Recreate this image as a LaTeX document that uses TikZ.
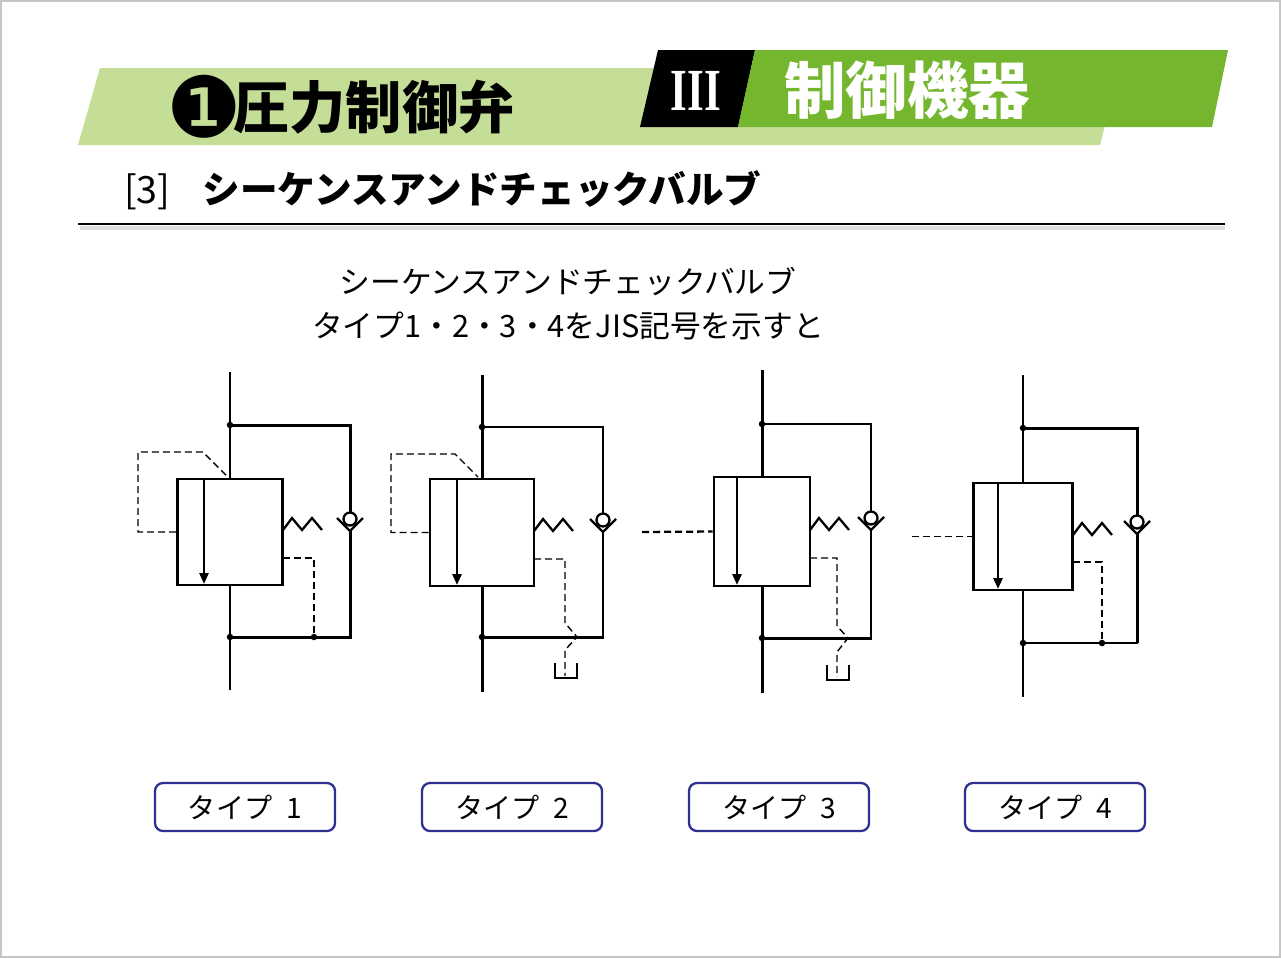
\documentclass[tikz,border=0pt]{standalone}
\usepackage{fontspec}
\usepackage{xcolor}
\usepackage{tikz}
\usetikzlibrary{arrows.meta}
\setmainfont{Noto Sans CJK JP}
\newfontfamily\dingfont{DejaVu Sans}
\newfontfamily\romanfont{Liberation Serif}
\definecolor{lightgreen}{HTML}{C4DE98}
\definecolor{darkgreen}{HTML}{74B62E}
\definecolor{labelblue}{HTML}{2E3192}

\tikzset{
  pipe/.style={line width=1.7pt},
  thinpipe/.style={line width=1.1pt},
  pilot/.style={line width=0.8pt, dash pattern=on 1.4mm off 0.8mm},
  valvebox/.style={draw, line width=1.5pt, inner sep=0pt},
  jdot/.style={circle, fill, inner sep=0pt, minimum size=1.3mm},
  flowarrow/.style={line width=1.5pt, -{Triangle[length=2.2mm,width=1.8mm]}},
  typebox/.style={draw=labelblue, line width=1.3pt, rounded corners=1.6mm, fill=white,
    minimum width=36mm, minimum height=9.6mm, font=\fontsize{16}{18}\selectfont},
  checkvalve/.pic={
    \draw[line width=1.3pt] (-13,-13) -- (0,0) -- (13,-13);
    \draw[line width=1.3pt] (0,-12) circle[radius=1.3mm];
    \coordinate (-in) at (0,-18.5);
    \coordinate (-out) at (0,0);
  },
  spring/.pic={
    \draw[line width=1.3pt] (0,0) -- (9,-12) -- (19,0) -- (29,-12) -- (39,0);
  },
  tank/.pic={
    \draw[line width=1.5pt] (-11,-15) -- (-11,0) -- (11,0) -- (11,-15);
  }
}

\begin{document}
\begin{tikzpicture}[x=0.2mm, y=-0.2mm]
\useasboundingbox (0,0) rectangle (1281,958);
\draw[gray!45, line width=0.8pt] (1,1) rectangle (1280,957);

% header
\fill[lightgreen] (100,68) -- (1120,68) -- (1100,145) -- (78,145) -- cycle;
\fill[black] (658,50) -- (755,50) -- (738,127) -- (640,127) -- cycle;
\fill[darkgreen] (755,50) -- (1228,50) -- (1212,127) -- (738,127) -- cycle;
\node[font=\dingfont\fontsize{48}{48}\selectfont] (chapnum) at (204,107) {❶};
\node[anchor=west, inner sep=0pt, font=\bfseries\fontsize{32}{36}\selectfont] (chapter) at (233,107) {圧力制御弁};
\node[white, xscale=0.72, font=\romanfont\bfseries\fontsize{34}{36}\selectfont] (part) at (696,91) {III};
\node[white, font=\bfseries\fontsize{35}{40}\selectfont] (parttitle) at (907,90) {制御機器};

\node[anchor=west, font=\fontsize{21.4}{26}\selectfont] (section) at (118,190)
  {[3]\hspace{0.85em}\textbf{シーケンスアンドチェックバルブ}};
\draw[gray!25, line width=2pt] (80,228) -- (1225,228);
\draw[line width=0.8pt] (78,224) -- (1225,224);

\node[font=\fontsize{17.5}{25}\selectfont, align=center] (caption) at (568,304)
  {シーケンスアンドチェックバルブ\\タイプ1・2・3・4をJIS記号を示すと};

% type 1
\node[valvebox, minimum width=21mm, minimum height=21.2mm] (v1) at (230,532) {};
\draw[pipe] (230,372) -- (v1.north);
\draw[pipe] (v1.south) -- (230,690);
\node[jdot] (j1a) at (230,425) {};
\node[jdot] (j1b) at (230,637) {};
\node[jdot] (j1c) at (314,637) {};
\pic (cv1) at (350,531) {checkvalve};
\draw[pipe] (j1a.center) -| (cv1-in);
\draw[pipe] (cv1-out) |- (j1b.center);
\draw[flowarrow] (204,479) -- (204,584);
\pic at (283,530) {spring};
\draw[pilot] (v1.west) -- (138,532) |- (203,452) -- (227,476);
\draw[pilot] (283,558) -| (j1c.center);

% type 2
\node[valvebox, minimum width=20.8mm, minimum height=21.4mm] (v2) at (482,532.5) {};
\draw[pipe] (482,375) -- (v2.north);
\draw[pipe] (v2.south) -- (482,692);
\node[jdot] (j2a) at (482,427) {};
\node[jdot] (j2b) at (482,637) {};
\pic (cv2) at (603,532) {checkvalve};
\draw[thinpipe] (j2a.center) -| (cv2-in);
\draw[thinpipe] (cv2-out) -- (603,637);
\draw[pipe] (j2b.center) -- (603.5,637);
\draw[flowarrow] (457,479) -- (457,585);
\pic at (534,531) {spring};
\draw[pilot] (v2.west) -- (391,532.5) |- (455,454) -- (478,477);
\draw[pilot] (534,559) -| (565,623) -- (577,637) -- (565,650) -- (565,676);
\pic at (566,678) {tank};

% type 3
\node[valvebox, minimum width=19.2mm, minimum height=21.8mm] (v3) at (762,531.5) {};
\draw[pipe] (762,370) -- (v3.north);
\draw[pipe] (v3.south) -- (762,693);
\node[jdot] (j3a) at (762,424) {};
\node[jdot] (j3b) at (762,638) {};
\pic (cv3) at (871,530) {checkvalve};
\draw[thinpipe] (j3a.center) -| (cv3-in);
\draw[thinpipe] (cv3-out) -- (871,638);
\draw[pipe] (j3b.center) -- (871.5,638);
\draw[flowarrow] (737,477) -- (737,585);
\pic at (810,530) {spring};
\draw[pilot, line width=1.3pt] (642,532) -- (v3.west);
\draw[pilot] (810,558) -| (837,626) -- (848,638) -- (837,652) -- (837,677);
\pic at (838,680) {tank};

% type 4
\node[valvebox, line width=1.2pt, minimum width=19.8mm, minimum height=21.4mm] (v4) at (1023,536.5) {};
\draw[thinpipe] (1023,375) -- (v4.north);
\draw[thinpipe] (v4.south) -- (1023,697);
\node[jdot] (j4a) at (1023,428) {};
\node[jdot] (j4b) at (1023,643) {};
\node[jdot] (j4c) at (1102,643) {};
\pic (cv4) at (1137,534) {checkvalve};
\draw[pipe] (j4a.center) -| (cv4-in);
\draw[pipe] (cv4-out) -- (1137,643);
\draw[thinpipe] (j4b.center) -- (1137.5,643);
\draw[flowarrow] (998,483) -- (998,589);
\pic at (1073,535) {spring};
\draw[pilot] (912,536.5) -- (v4.west);
\draw[pilot] (1073,562) -| (j4c.center);

% labels
\node[typebox] (type1) at (245,807) {タイプ\enspace 1};
\node[typebox] (type2) at (512,807) {タイプ\enspace 2};
\node[typebox] (type3) at (779,807) {タイプ\enspace 3};
\node[typebox] (type4) at (1055,807) {タイプ\enspace 4};
\end{tikzpicture}
\end{document}
